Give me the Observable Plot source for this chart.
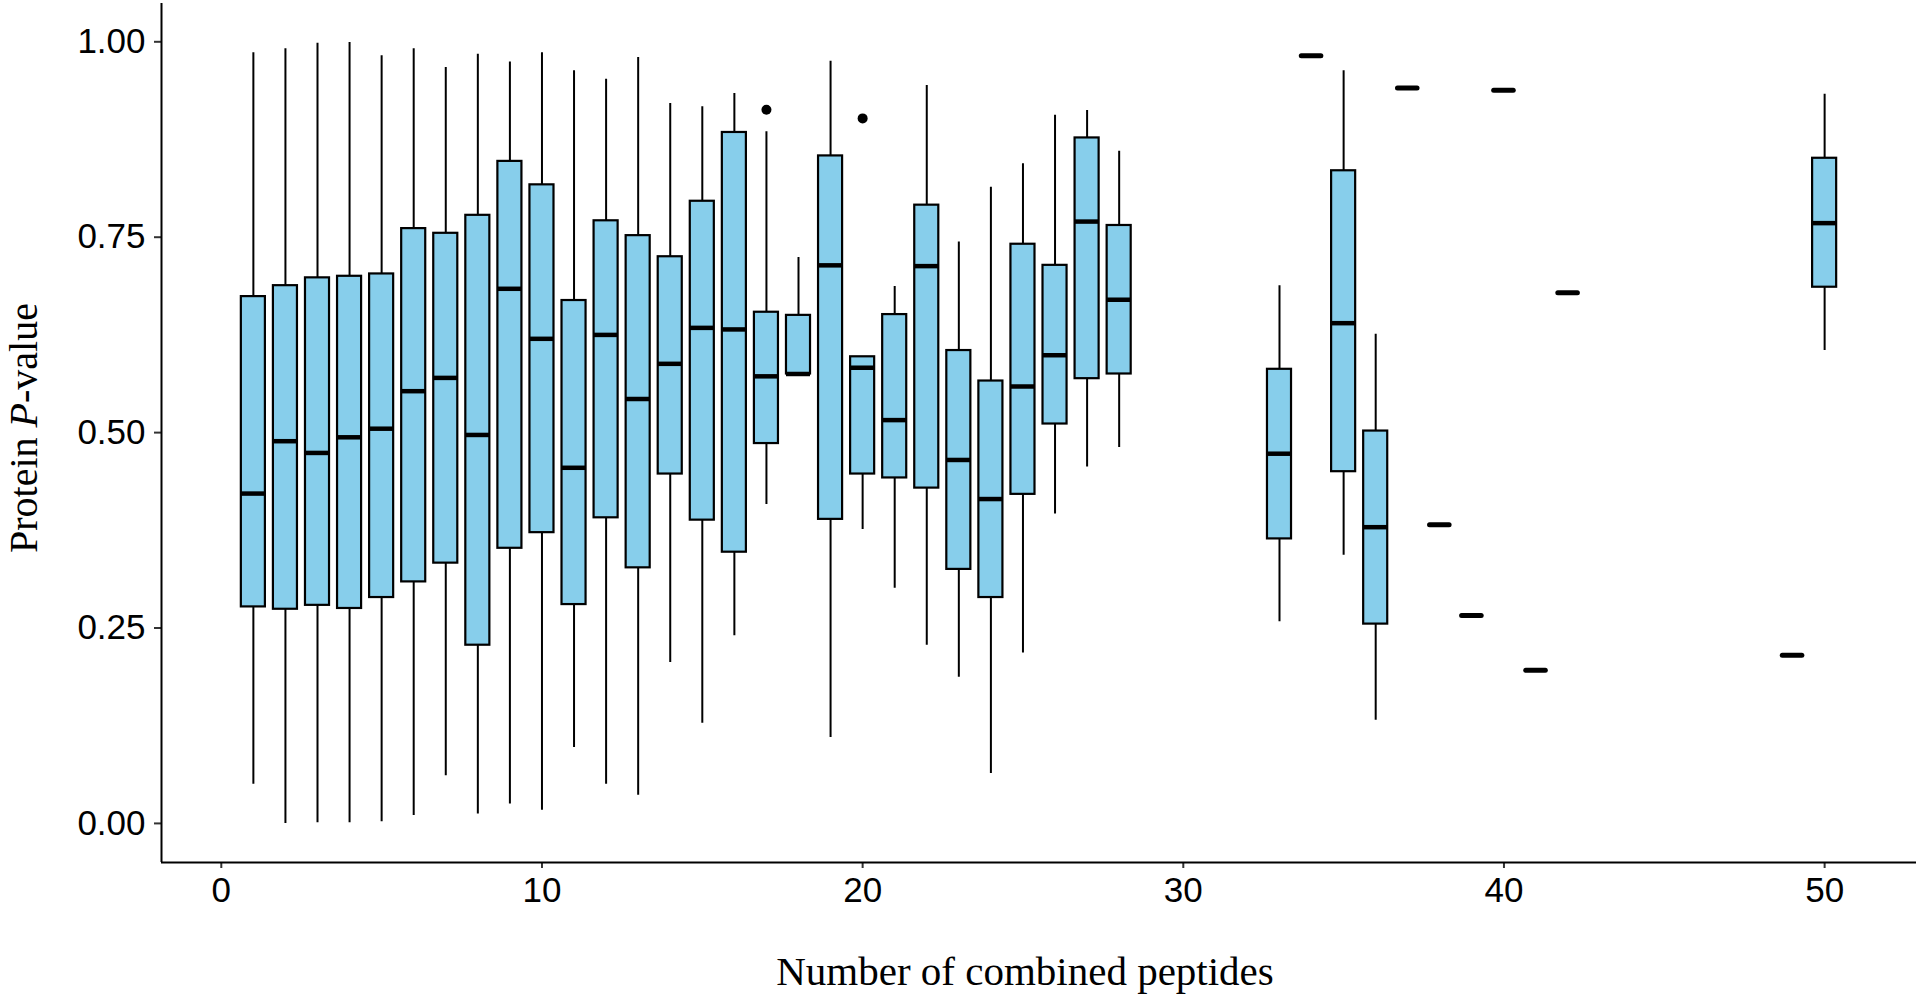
<!DOCTYPE html>
<html><head><meta charset="utf-8">
<script src="https://cdn.jsdelivr.net/npm/d3@7"></script>
<script src="https://cdn.jsdelivr.net/npm/@observablehq/plot@0.6"></script>
<style>html,body{margin:0;padding:0;background:#fff;overflow:hidden}</style>
</head><body><div id="chart"></div>
<script>
// Box-plot groups (number of combined peptides)
const boxN   = [1,2,3,4,5,6,7,8,9,10,11,12,13,14,15,16,17,18,19,20,21,22,23,24,25,26,27,28,33,35,36,50];
const boxLo  = [0.050,0.000,0.001,0.001,0.002,0.010,0.061,0.012,0.025,0.017,0.097,0.050,0.036,0.206,0.128,0.240,0.408,0.575,0.110,0.376,0.301,0.228,0.187,0.064,0.218,0.396,0.456,0.481,0.258,0.343,0.132,0.605];
const boxQ1  = [0.277,0.274,0.279,0.275,0.289,0.309,0.333,0.228,0.352,0.372,0.280,0.391,0.327,0.447,0.388,0.347,0.486,0.575,0.389,0.447,0.442,0.429,0.325,0.289,0.421,0.511,0.569,0.575,0.364,0.450,0.255,0.686];
const boxMed = [0.422,0.489,0.474,0.494,0.505,0.553,0.570,0.497,0.684,0.620,0.455,0.625,0.543,0.588,0.634,0.632,0.572,0.575,0.714,0.583,0.516,0.713,0.465,0.415,0.559,0.599,0.770,0.670,0.473,0.640,0.379,0.768];
const boxQ3  = [0.674,0.688,0.698,0.700,0.703,0.761,0.755,0.778,0.847,0.817,0.669,0.771,0.752,0.725,0.796,0.884,0.654,0.650,0.854,0.597,0.651,0.791,0.605,0.566,0.741,0.714,0.877,0.765,0.581,0.835,0.502,0.851];
const boxHi  = [0.986,0.991,0.998,0.999,0.982,0.991,0.967,0.984,0.974,0.986,0.963,0.952,0.980,0.921,0.917,0.934,0.885,0.724,0.975,0.597,0.687,0.944,0.744,0.814,0.844,0.906,0.912,0.860,0.688,0.963,0.626,0.933];

// Groups with a single protein (collapsed boxes)
const singleN   = [34,37,38,39,40,41,42,49];
const singleVal = [0.982,0.941,0.382,0.266,0.938,0.196,0.679,0.215];

// Outliers
const outlierN   = [17,20];
const outlierVal = [0.913,0.902];

const xTicks = [0,10,20,30,40,50];
const yTicks = [0,0.25,0.5,0.75,1];

const boxes = boxN.map((n,i)=>({n, lo:boxLo[i], q1:boxQ1[i], med:boxMed[i], q3:boxQ3[i], hi:boxHi[i]}));
const singles = singleN.map((n,i)=>({n, v:singleVal[i]}));
const outliers = outlierN.map((n,i)=>({n, v:outlierVal[i]}));

const half = 0.375;
const xDomain = [-1.865, 52.865];
const yDomain = [-0.05, 1.049];

const chart = Plot.plot({
  width: 1920, height: 998,
  marginLeft: 161, marginRight: 4, marginTop: 3, marginBottom: 136,
  x: {domain: xDomain, axis: null},
  y: {domain: yDomain, axis: null},
  style: {background: "white", color: "black", fontFamily: "'Liberation Sans', Arial, sans-serif", overflow: "visible"},
  marks: [
    Plot.ruleX(boxes, {x: "n", y1: "lo", y2: "hi", stroke: "black", strokeWidth: 2}),
    Plot.rect(boxes, {x1: d => d.n - half, x2: d => d.n + half, y1: "q1", y2: "q3", fill: "#87CEEB", stroke: "black", strokeWidth: 2.2}),
    Plot.ruleY(boxes, {y: "med", x1: d => d.n - half, x2: d => d.n + half, stroke: "black", strokeWidth: 4.5}),
    Plot.ruleY(singles, {y: "v", x1: d => d.n - half + 0.07, x2: d => d.n + half - 0.07, stroke: "black", strokeWidth: 5, strokeLinecap: "round"}),
    Plot.dot(outliers, {x: "n", y: "v", r: 5, fill: "black", stroke: "none"}),
    Plot.axisX({ticks: xTicks, tickSize: 6, tickPadding: 9, fontSize: 35, stroke: "#333", strokeWidth: 2, fill: "black", label: null}),
    Plot.axisY({ticks: yTicks, tickFormat: d3.format(".2f"), tickSize: 7, tickPadding: 9, fontSize: 35, stroke: "#333", strokeWidth: 2, fill: "black", label: null}),
    Plot.ruleX([xDomain[0]], {stroke: "black", strokeWidth: 2}),
    Plot.ruleY([yDomain[0]], {stroke: "black", strokeWidth: 2})
  ]
});

const svg = d3.select(chart);
svg.append("text")
  .attr("x", 1025).attr("y", 985)
  .attr("text-anchor", "middle")
  .style("font-family", "'Liberation Serif', 'Times New Roman', serif")
  .style("font-size", "41px")
  .attr("fill", "black")
  .text("Number of combined peptides");

const yt = svg.append("text")
  .attr("transform", "translate(37,428) rotate(-90)")
  .attr("text-anchor", "middle")
  .style("font-family", "'Liberation Serif', 'Times New Roman', serif")
  .style("font-size", "40px")
  .attr("fill", "black");
yt.append("tspan").text("Protein ");
yt.append("tspan").style("font-style", "italic").text("P");
yt.append("tspan").text("-value");

document.getElementById("chart").appendChild(chart);
</script>
</body></html>
